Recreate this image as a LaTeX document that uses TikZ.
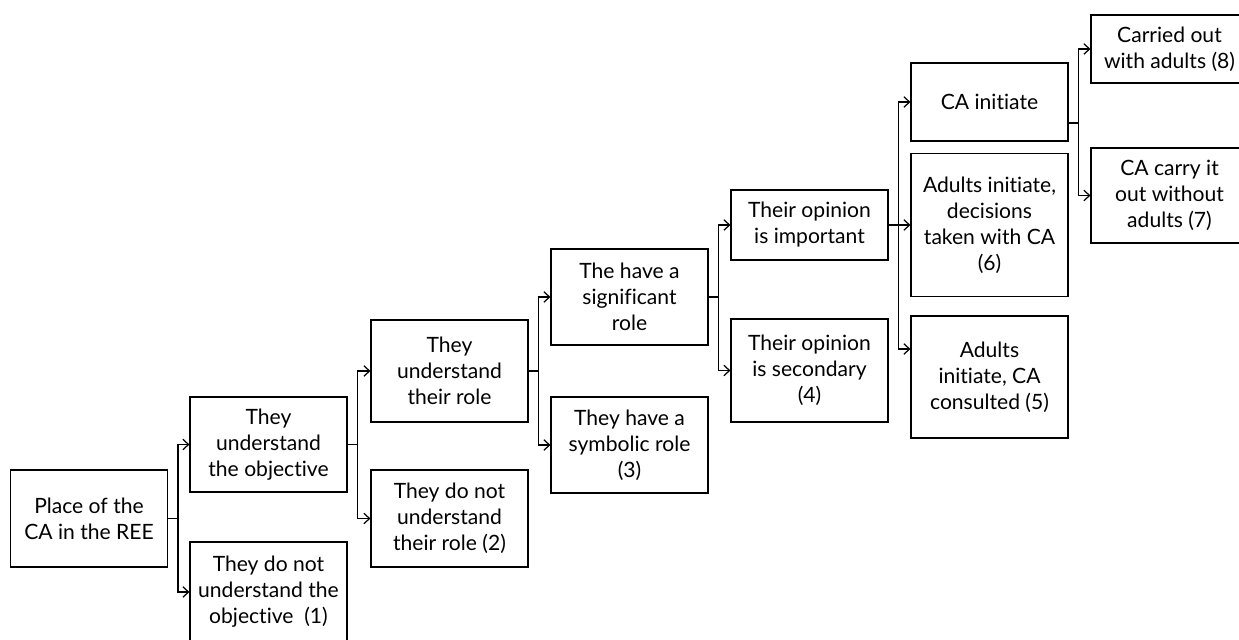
\documentclass[tikz,border=0pt]{standalone}
\usepackage{fontspec}
\setmainfont{Lato}[Ligatures=NoCommon]
\usepackage{tikz}
\usetikzlibrary{arrows.meta}

\begin{document}
\begin{tikzpicture}[x=0.02cm, y=-0.02cm, line width=0.7pt, >={Straight Barb[length=3.2pt,width=6pt]},
	box/.style={draw, rectangle, align=center, inner sep=2pt, minimum width=3.14cm, font=\fontsize{12}{14.8}\selectfont},
	boxh/.style={minimum height=#1*0.02cm}]
	\useasboundingbox (0,0) rectangle (1239,639);
	% boxes, column by column
	\node[box, boxh=97] (place) at (89,518.5) {Place of the\\CA in the REE};
	\node[box, boxh=95] (objyes) at (268.5,444.5) {They\\understand\\the objective};
	\node[box, boxh=100] (objno) at (268.5,592) {They do not\\understand the\\objective~~(1)};
	\node[box, boxh=102] (roleyes) at (449.5,371) {They\\understand\\their role};
	\node[box, boxh=97] (roleno) at (449.5,518.5) {They do not\\understand\\their role (2)};
	\node[box, boxh=96] (signif) at (629.5,297) {The have a\\significant\\role};
	\node[box, boxh=96] (symbol) at (629.5,445) {They have a\\symbolic role\\(3)};
	\node[box, boxh=70] (opimp) at (809.5,225) {Their opinion\\is important};
	\node[box, boxh=103] (opsec) at (809.5,370.5) {Their opinion\\is secondary\\(4)};
	\node[box, boxh=78] (cainit) at (989.5,102) {CA initiate};
	\node[box, boxh=143] (adultdec) at (989.5,225) {Adults initiate,\\decisions\\taken with CA\\(6)};
	\node[box, boxh=122] (adultcons) at (989.5,377) {Adults\\initiate, CA\\consulted (5)};
	\node[box, boxh=68] (withad) at (1169.5,49) {Carried out\\with adults (8)};
	\node[box, boxh=95] (withoutad) at (1169.5,195.5) {CA carry it\\out without\\adults (7)};
	% connectors
	\draw (place.east) -- ++(10,0) coordinate (t0);
	\draw[->] (t0) |- (objyes.west);
	\draw[->] (t0) |- (objno.west);
	\draw (objyes.east) -- ++(10,0) coordinate (t1);
	\draw[->] (t1) |- (roleyes.west);
	\draw[->] (t1) |- (roleno.west);
	\draw (roleyes.east) -- ++(10,0) coordinate (t2);
	\draw[->] (t2) |- (signif.west);
	\draw[->] (t2) |- (symbol.west);
	\draw (signif.east) -- ++(10,0) coordinate (t3);
	\draw[->] (t3) |- (opimp.west);
	\draw[->] (t3) |- (opsec.west);
	\draw (opimp.east) -- ++(10,0) coordinate (t4);
	\draw[->] (t4) |- (cainit.west);
	\draw[->] (t4) -- (adultdec.west);
	\draw[->] (t4) |- ([yshift=0.56cm]adultcons.west);
	\draw ([yshift=-0.42cm]cainit.east) -- ++(10,0) coordinate (t5);
	\draw[->] (t5) |- (withad.west);
	\draw[->] (t5) |- (withoutad.west);
\end{tikzpicture}
\end{document}
